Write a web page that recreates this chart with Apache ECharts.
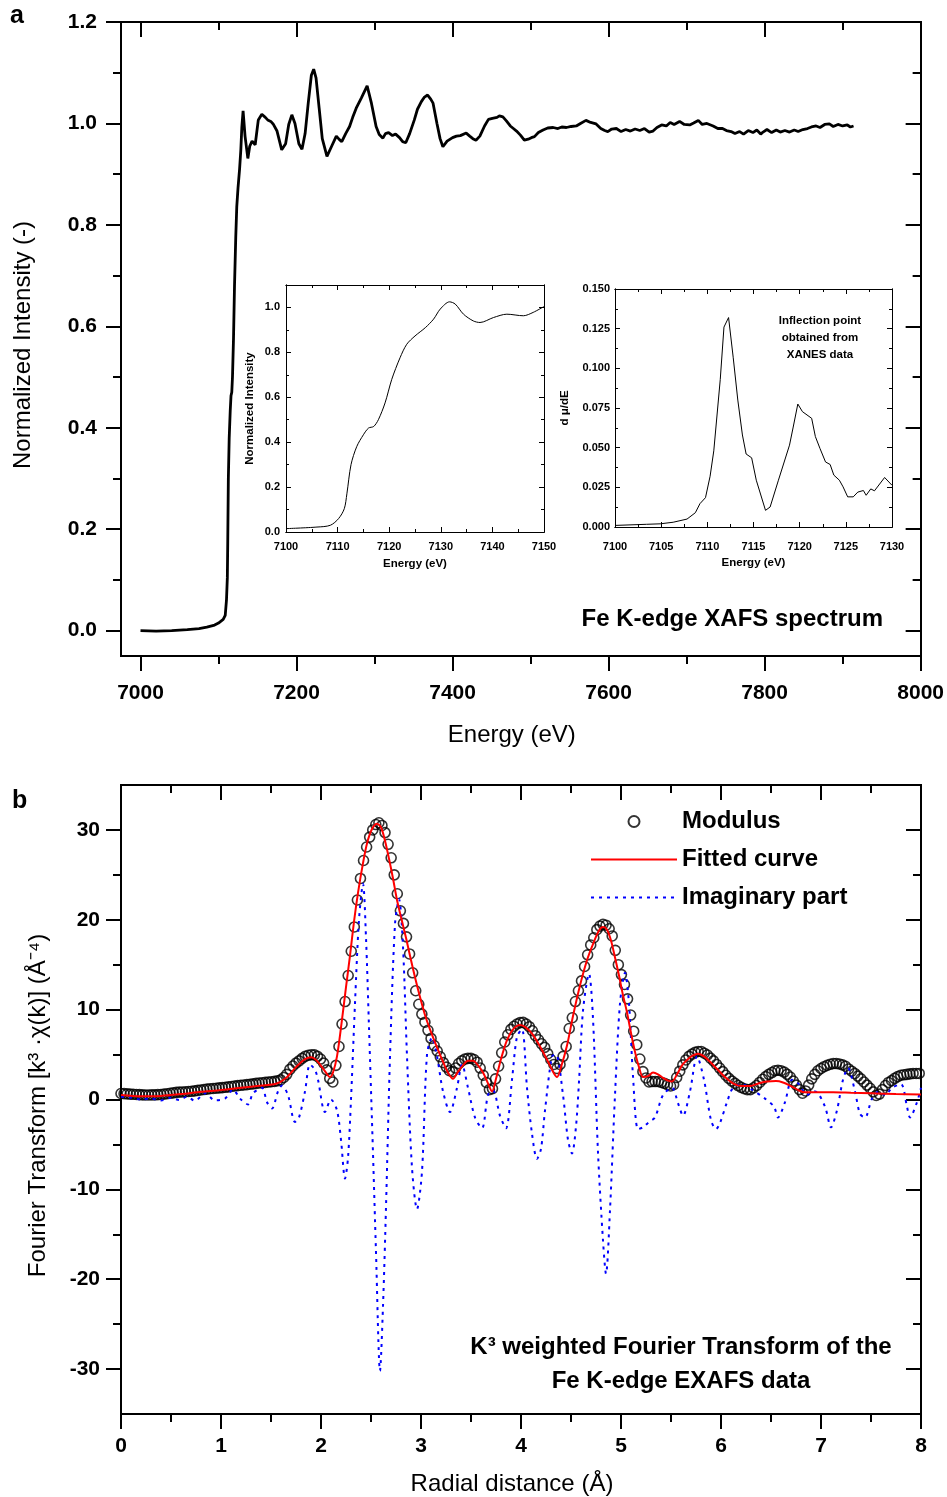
<!DOCTYPE html>
<html>
<head>
<meta charset="utf-8">
<script src="https://cdn.jsdelivr.net/npm/echarts@6/dist/echarts.min.js"></script>
<style>
  html, body { margin: 0; padding: 0; background: #fff; }
  #chart { width: 947px; height: 1497px; }
</style>
</head>
<body>
<div id="chart"></div>
<script>
// ---- panel a: Fe K-edge XAFS spectrum (energy eV, normalized intensity) ----
const xafsE = [7000, 7020, 7040, 7060, 7075, 7085, 7095, 7100, 7106, 7108.6, 7110.2, 7111.3, 7111.8, 7112.6, 7113.7,
  7115, 7116, 7117, 7117.9, 7119.2, 7120.5, 7122.1, 7123.4, 7125, 7127, 7128.6, 7129.9, 7131.5, 7134, 7137.6,
  7140, 7143, 7147, 7151, 7155.5, 7160, 7163, 7167, 7170, 7175, 7181, 7186, 7190, 7194, 7198, 7203, 7207, 7211,
  7215, 7219, 7222, 7225, 7229, 7233, 7239, 7245, 7251, 7255, 7258, 7263, 7268, 7272, 7276.5, 7283, 7290.5, 7296,
  7302, 7306, 7310.7, 7314, 7318, 7323, 7327, 7332, 7336, 7340, 7345, 7351, 7355, 7360, 7364, 7368, 7372, 7375,
  7380, 7384, 7387.6, 7393, 7400, 7405, 7410, 7417.5, 7422, 7426, 7430, 7435, 7441, 7446, 7451, 7457, 7460,
  7464.5, 7469, 7474, 7478, 7482, 7487, 7492, 7497, 7501, 7505, 7510, 7516, 7522, 7529, 7535, 7540, 7546, 7552,
  7558.6, 7564, 7571, 7577, 7584, 7590, 7595, 7599, 7604, 7610, 7616, 7622, 7628, 7634, 7640, 7646, 7652, 7657,
  7662, 7668, 7674, 7679, 7684, 7691, 7697, 7704, 7709, 7715, 7720, 7726, 7734, 7740, 7746, 7751, 7757, 7762,
  7768, 7773, 7779, 7785, 7790, 7795, 7798, 7803, 7809, 7815, 7820, 7826, 7832, 7838, 7843, 7849, 7855, 7860,
  7866, 7871, 7877, 7883, 7888, 7894, 7900, 7906, 7910, 7914];
const xafsI = [0.0, -0.001, 0.0, 0.002, 0.004, 0.007, 0.011, 0.015, 0.022, 0.03, 0.06, 0.104, 0.17, 0.30, 0.38,
  0.433, 0.463, 0.47, 0.50, 0.575, 0.68, 0.776, 0.836, 0.873, 0.91, 0.948, 0.993, 1.025, 0.975, 0.931,
  0.955, 0.965, 0.958, 1.007, 1.018, 1.012, 1.007, 1.004, 0.999, 0.985, 0.948, 0.96, 0.998, 1.017, 1.0, 0.96, 0.949, 0.98,
  1.04, 1.095, 1.107, 1.09, 1.03, 0.97, 0.935, 0.955, 0.975, 0.968, 0.964, 0.98, 0.994, 1.012, 1.030, 1.05, 1.074, 1.04,
  0.994, 0.978, 0.971, 0.98, 0.982, 0.976, 0.979, 0.972, 0.964, 0.962, 0.98, 1.007, 1.028, 1.043, 1.052, 1.056, 1.048, 1.040,
  1.0, 0.97, 0.954, 0.965, 0.972, 0.975, 0.976, 0.981, 0.975, 0.97, 0.967, 0.975, 0.995, 1.008, 1.010, 1.012, 1.015,
  1.013, 1.005, 0.995, 0.99, 0.985, 0.977, 0.967, 0.969, 0.972, 0.974, 0.982, 0.987, 0.991, 0.992, 0.99, 0.993, 0.992, 0.994,
  0.995, 1.0, 1.006, 1.002, 0.999, 0.99, 0.986, 0.984, 0.989, 0.99, 0.984, 0.988, 0.985, 0.989, 0.986, 0.99, 0.983, 0.985,
  0.992, 0.997, 0.995, 1.002, 0.998, 1.004, 0.998, 0.997, 1.001, 1.006, 0.998, 1.0, 0.995, 0.99, 0.99, 0.986, 0.984, 0.98,
  0.984, 0.979, 0.986, 0.982, 0.987, 0.979, 0.983, 0.988, 0.982, 0.987, 0.983, 0.986, 0.983, 0.987, 0.984, 0.988, 0.99, 0.993,
  0.995, 0.992, 0.998, 0.999, 0.994, 0.998, 0.995, 0.997, 0.993, 0.995];

// inset 1: XANES region
const xanesE = [7100, 7106, 7108.6, 7110.2, 7111.3, 7111.8, 7112.6, 7113.7, 7115, 7116, 7117, 7117.9, 7119.2,
  7120.5, 7122.1, 7123.4, 7125, 7127, 7128.6, 7129.9, 7131.7, 7132.8, 7134.4, 7136.3, 7137.6, 7140.2, 7142.8,
  7146, 7147.9, 7150];
const xanesI = [0.015, 0.022, 0.03, 0.06, 0.104, 0.17, 0.30, 0.38, 0.433, 0.463, 0.47, 0.50, 0.575,
  0.68, 0.776, 0.836, 0.873, 0.91, 0.948, 0.993, 1.025, 1.015, 0.97, 0.94, 0.933, 0.955, 0.97,
  0.963, 0.978, 1.004];

// inset 2: first derivative
const derivE = [7100, 7103.4, 7104.9, 7106.3, 7107.8, 7108.7, 7109.2, 7109.8, 7110.3, 7110.7, 7111.4, 7111.8,
  7112.3, 7112.8, 7113.3, 7113.8, 7114.2, 7114.8, 7115.3, 7116.3, 7116.8, 7117.7, 7118.9, 7119.3, 7119.8,
  7120.3, 7121.3, 7121.7, 7122.2, 7122.8, 7123.3, 7123.7, 7124.3, 7124.7, 7125.2, 7125.8, 7126.3, 7126.9,
  7127.2, 7127.7, 7128.1, 7129.2, 7130];
const derivV = [0.001, 0.0017, 0.002, 0.003, 0.005, 0.009, 0.0147, 0.0185, 0.032, 0.048, 0.093, 0.126,
  0.132, 0.107, 0.080, 0.058, 0.046, 0.0436, 0.0295, 0.0105, 0.0126, 0.0295, 0.0516, 0.063, 0.0775,
  0.0727, 0.0685, 0.057, 0.0495, 0.041, 0.0394, 0.0327, 0.0295, 0.0253, 0.019, 0.019, 0.022, 0.023,
  0.020, 0.024, 0.0228, 0.0312, 0.0263];

// ---- panel b: k3-weighted Fourier transform ----
const modStep = 0.0307;   // R grid of the modulus points (Å)
const modulus = [
  0.67, 0.65, 0.63, 0.60, 0.58, 0.56, 0.54, 0.52, 0.50, 0.50,
  0.51, 0.52, 0.54, 0.55, 0.60, 0.64, 0.69, 0.74, 0.79, 0.82,
  0.84, 0.86, 0.89, 0.91, 0.96, 1.01, 1.06, 1.11, 1.15, 1.20,
  1.23, 1.26, 1.29, 1.32, 1.36, 1.41, 1.45, 1.50, 1.54, 1.58,
  1.62, 1.66, 1.70, 1.74, 1.79, 1.83, 1.87, 1.91, 1.94, 1.98,
  2.02, 2.08, 2.18, 2.45, 2.80, 3.35, 3.73, 4.05, 4.30, 4.58,
  4.80, 4.92, 4.98, 4.97, 4.80, 4.50, 4.05, 3.30, 2.35, 1.95,
  3.80, 5.90, 8.40, 10.9, 13.8, 16.5, 19.2, 22.2, 24.6, 26.6,
  28.1, 29.2, 30.0, 30.6, 30.8, 30.5, 29.7, 28.4, 26.9, 25.0,
  22.9, 21.0, 19.6, 18.1, 16.2, 14.1, 12.1, 10.6, 9.5, 8.6,
  7.7, 6.8, 6.0, 5.4, 4.75, 4.1, 3.6, 3.2, 3.1, 3.5,
  4.0, 4.3, 4.5, 4.58, 4.58, 4.45, 4.15, 3.5, 2.7, 1.9,
  1.1, 1.2, 2.3, 3.7, 5.2, 6.4, 7.2, 7.8, 8.15, 8.4,
  8.55, 8.58, 8.4, 8.1, 7.65, 7.1, 6.65, 6.2, 5.8, 5.1,
  4.45, 3.9, 3.45, 3.9, 4.8, 5.9, 7.9, 9.1, 10.9, 12.1,
  13.2, 14.8, 16.1, 17.2, 18.0, 18.9, 19.3, 19.5, 19.4, 19.0,
  18.2, 16.6, 15.0, 13.9, 12.8, 11.2, 9.4, 7.6, 6.1, 4.5,
  3.1, 2.4, 1.95, 2.0, 2.0, 2.0, 1.9, 1.8, 1.65, 1.5,
  1.65, 2.45, 3.15, 3.85, 4.4, 4.8, 5.05, 5.25, 5.35, 5.35,
  5.15, 4.95, 4.6, 4.3, 3.9, 3.5, 3.1, 2.7, 2.35, 2.05,
  1.8, 1.55, 1.35, 1.2, 1.1, 1.1, 1.3, 1.55, 1.9, 2.25,
  2.55, 2.8, 3.0, 3.2, 3.25, 3.2, 3.05, 2.8, 2.5, 2.05,
  1.6, 1.1, 0.7, 0.95, 1.6, 2.3, 2.8, 3.2, 3.45, 3.65,
  3.8, 3.92, 4.0, 4.0, 3.95, 3.85, 3.7, 3.4, 3.15, 2.9,
  2.6, 2.3, 1.95, 1.6, 1.25, 0.85, 0.45, 0.6, 1.1, 1.55,
  1.9, 2.1, 2.35, 2.55, 2.7, 2.75, 2.8, 2.85, 2.9, 2.9,
  2.9
];
const fitted = [[0, 0.5], [0.2, 0.35], [0.4, 0.4], [0.6, 0.6], [0.8, 0.85], [1.0, 1.05], [1.2, 1.3], [1.4, 1.55],
  [1.55, 1.75], [1.65, 2.4], [1.75, 3.6], [1.84, 4.5], [1.9, 4.7], [1.96, 4.3], [2.03, 3.3], [2.09, 2.5], [2.12, 3.0],
  [2.16, 4.8], [2.2, 8.0], [2.25, 12.5], [2.29, 16], [2.33, 19.8], [2.37, 23], [2.42, 26.3], [2.46, 28.5], [2.51, 30.1],
  [2.56, 30.7], [2.6, 30.3], [2.64, 28.8], [2.68, 26.8], [2.72, 24.6], [2.76, 22.2], [2.8, 20.3], [2.85, 18.0],
  [2.89, 16], [2.94, 13.6], [2.99, 11.4], [3.04, 9.4], [3.09, 7.8], [3.16, 5.8], [3.22, 4.2], [3.27, 3.0], [3.32, 2.3],
  [3.37, 3.1], [3.42, 3.8], [3.47, 4.3], [3.52, 4.3], [3.57, 3.8], [3.62, 3.0], [3.67, 1.8], [3.71, 0.9], [3.75, 2.3],
  [3.8, 4.5], [3.86, 6.6], [3.92, 7.8], [3.99, 8.3], [4.05, 8.0], [4.12, 7.2], [4.2, 5.7], [4.28, 4.0], [4.33, 2.9],
  [4.36, 2.5], [4.4, 3.6], [4.46, 6.0], [4.52, 9.3], [4.59, 12.7], [4.66, 15.5], [4.72, 17.3], [4.78, 18.8],
  [4.82, 19.2], [4.86, 18.9], [4.9, 17.7], [4.94, 15.8], [4.98, 13.8], [5.02, 11.6], [5.06, 9.7], [5.1, 7.4],
  [5.14, 5.3], [5.18, 3.6], [5.22, 2.5], [5.27, 2.6], [5.32, 3.0], [5.37, 2.8], [5.42, 2.4], [5.47, 2.1], [5.51, 2.0],
  [5.56, 2.8], [5.61, 3.8], [5.66, 4.4], [5.72, 4.9], [5.77, 5.1], [5.83, 4.8], [5.9, 4.1], [5.96, 3.4], [6.04, 2.5],
  [6.12, 1.8], [6.2, 1.5], [6.29, 1.5], [6.38, 1.8], [6.46, 2.0], [6.55, 2.05], [6.62, 1.9], [6.7, 1.5], [6.78, 1.0],
  [6.84, 0.8], [6.95, 0.8], [7.12, 0.8], [7.3, 0.75], [7.5, 0.7], [7.75, 0.6], [8.0, 0.55]];
const imaginary = [[0, 0.3], [0.1, 0.2], [0.2, 0.0], [0.3, 0.1], [0.4, -0.1], [0.5, 0.2], [0.58, -0.05], [0.66, 0.3],
  [0.74, -0.15], [0.84, 0.7], [0.94, -0.1], [1.04, 0.1], [1.12, 1.1], [1.19, 0.1], [1.27, -0.55], [1.32, 0.7],
  [1.41, 1.3], [1.46, -0.3], [1.51, -1.0], [1.57, 0.9], [1.61, 1.55], [1.67, 0.5], [1.74, -2.5], [1.78, -2.0],
  [1.84, 0.9], [1.89, 3.9], [1.94, 3.3], [1.97, 2.2], [2.04, -1.4], [2.1, 0.0], [2.16, -1.2], [2.2, -4.5], [2.24, -8.8],
  [2.27, -6.5], [2.3, 0], [2.34, 10.7], [2.38, 20], [2.42, 24], [2.45, 18], [2.48, 8], [2.52, -6], [2.55, -17],
  [2.59, -30.2], [2.62, -23], [2.65, -12], [2.69, 4.8], [2.74, 19.5], [2.78, 22.3], [2.82, 17], [2.86, 4.8],
  [2.91, -7.6], [2.96, -12.2], [3.01, -8], [3.06, 5.0], [3.11, 6.9], [3.16, 4.8], [3.22, 0.9], [3.29, -1.4],
  [3.36, 1.3], [3.41, 3.9], [3.47, 1.3], [3.54, -2.0], [3.61, -3.2], [3.67, 0.5], [3.72, 1.0], [3.79, -1.8],
  [3.85, -3.2], [3.91, 2.2], [3.96, 7.0], [4.01, 7.8], [4.06, 1.3], [4.11, -3.8], [4.16, -6.6], [4.2, -5.5],
  [4.24, -1.2], [4.31, 4.8], [4.35, 5.0], [4.42, 0.5], [4.47, -4.5], [4.51, -6.0], [4.55, -3], [4.58, 2], [4.62, 9.9],
  [4.68, 14], [4.72, 9], [4.77, -5.9], [4.82, -15.7], [4.85, -19.4], [4.89, -12.3], [4.94, 0.5], [4.99, 10.7],
  [5.04, 14.1], [5.08, 10.7], [5.12, 2.6], [5.17, -3.3], [5.22, -3.1], [5.28, -2.5], [5.34, -2.0], [5.42, 0.5],
  [5.51, 1.3], [5.57, -0.4], [5.62, -1.8], [5.69, 0.9], [5.76, 4.8], [5.83, 2.2], [5.9, -2.3], [5.95, -3.3],
  [5.99, -2.6], [6.06, -0.3], [6.12, 1.3], [6.21, 1.7], [6.31, 1.1], [6.44, 0.1], [6.53, -0.8], [6.57, -2.0],
  [6.64, -0.3], [6.71, 2.2], [6.78, 1.7], [6.86, 0.5], [6.94, 0.9], [7.04, -0.8], [7.1, -3.1], [7.16, -1.2],
  [7.22, 2.2], [7.27, 3.5], [7.34, 0.9], [7.39, -1.6], [7.44, -2.0], [7.51, 0.1], [7.58, 0.9], [7.64, 0.5],
  [7.71, 1.3], [7.8, 1.7], [7.86, -0.8], [7.89, -2.0], [7.96, -0.3], [8.0, 1.3]];

// tick positions
const aXMajor = [7000, 7200, 7400, 7600, 7800, 8000];
const aXMinor = [7100, 7300, 7500, 7700, 7900];
const aYMajor = [0, 0.2, 0.4, 0.6, 0.8, 1.0, 1.2];
const aYMinor = [0.1, 0.3, 0.5, 0.7, 0.9, 1.1];
const i1XMajor = [7100, 7110, 7120, 7130, 7140, 7150];
const i1XMinor = [7105, 7115, 7125, 7135, 7145];
const i1YMajor = [0, 0.2, 0.4, 0.6, 0.8, 1.0];
const i1YMinor = [0.1, 0.3, 0.5, 0.7, 0.9, 1.1];
const i2XMajor = [7100, 7105, 7110, 7115, 7120, 7125, 7130];
const i2XMinor = [7102.5, 7107.5, 7112.5, 7117.5, 7122.5, 7127.5];
const i2YMajor = [0, 0.025, 0.05, 0.075, 0.1, 0.125, 0.15];
const i2YMinor = [0.0125, 0.0375, 0.0625, 0.0875, 0.1125, 0.1375];
const bXMajor = [0, 1, 2, 3, 4, 5, 6, 7, 8];
const bXMinor = [0.5, 1.5, 2.5, 3.5, 4.5, 5.5, 6.5, 7.5];
const bYMajor = [-30, -20, -10, 0, 10, 20, 30];
const bYMinor = [-25, -15, -5, 5, 15, 25];

const FONT = '"Liberation Sans", Arial, sans-serif';
const xAxes = [];
const yAxes = [];

// builds the 4 axes of one side pair (primary with labels + minor, mirrored major + minor)
function addAxes(list, dim, grid, c) {
  const prim = dim === 'x' ? 'bottom' : 'left';
  const mirr = dim === 'x' ? 'top' : 'right';
  const mk = (pos, vals, len, inside, label) => ({
    type: 'value', gridIndex: grid, position: pos, min: c.min, max: c.max,
    splitLine: { show: false },
    axisLine: { show: true, onZero: false, lineStyle: { color: '#000', width: c.lineW } },
    axisTick: { show: true, inside: inside, length: len, customValues: vals,
      lineStyle: { color: '#000', width: c.tickW } },
    axisLabel: label ? {
      show: true, customValues: c.majors, formatter: c.fmt, margin: c.margin,
      fontSize: c.labelSize, fontWeight: 'bold', fontFamily: FONT, color: '#000'
    } : { show: false }
  });
  const first = list.length;
  const main = mk(prim, c.majors, c.majLen, c.inset, true);
  main.name = c.name;
  main.nameLocation = 'middle';
  main.nameGap = c.nameGap;
  main.nameTextStyle = { fontSize: c.nameSize, fontWeight: c.nameWeight, fontFamily: FONT, color: '#000',
    padding: c.namePad || 0 };
  list.push(main);
  list.push(mk(prim, c.minors, c.minLen, c.inset, false));
  list.push(mk(mirr, c.majors, c.majLen, true, false));
  list.push(mk(mirr, c.minors, c.minLen, true, false));
  return first;
}

const big = { lineW: 2, tickW: 2, majLen: 15, minLen: 8, inset: false, labelSize: 21, nameSize: 24, nameWeight: 'normal' };
const small = { lineW: 1, tickW: 1, majLen: 5, minLen: 3, inset: true, labelSize: 11, nameSize: 11.5, nameWeight: 'bold' };

const ax0 = addAxes(xAxes, 'x', 0, Object.assign({}, big, { min: 6975, max: 8000, majors: aXMajor, minors: aXMinor,
  fmt: v => String(v), margin: 27, name: 'Energy (eV)', nameGap: 67, namePad: [0, 18, 0, 0] }));
const ay0 = addAxes(yAxes, 'y', 0, Object.assign({}, big, { min: -0.05, max: 1.2, majors: aYMajor, minors: aYMinor,
  fmt: v => v.toFixed(1), margin: 24, name: 'Normalized Intensity (-)', nameGap: 86, namePad: [0, 12, 0, 0] }));
const ax1 = addAxes(xAxes, 'x', 1, Object.assign({}, small, { min: 7100, max: 7150, majors: i1XMajor, minors: i1XMinor,
  fmt: v => String(v), margin: 9, name: 'Energy (eV)', nameGap: 26 }));
const ay1 = addAxes(yAxes, 'y', 1, Object.assign({}, small, { min: 0, max: 1.1, majors: i1YMajor, minors: i1YMinor,
  fmt: v => v.toFixed(1), margin: 6, name: 'Normalized Intensity', nameGap: 30 }));
const ax2 = addAxes(xAxes, 'x', 2, Object.assign({}, small, { min: 7100, max: 7130, majors: i2XMajor, minors: i2XMinor,
  fmt: v => String(v), margin: 14, name: 'Energy (eV)', nameGap: 30 }));
const ay2 = addAxes(yAxes, 'y', 2, Object.assign({}, small, { min: 0, max: 0.15, majors: i2YMajor, minors: i2YMinor,
  fmt: v => v.toFixed(3), margin: 5, name: 'd \u03bc/dE', nameGap: 44 }));
const ax3 = addAxes(xAxes, 'x', 3, Object.assign({}, big, { min: 0, max: 8, majors: bXMajor, minors: bXMinor,
  fmt: v => String(v), margin: 22, name: 'Radial distance (\u00c5)', nameGap: 58, namePad: [0, 18, 0, 0] }));
const ay3 = addAxes(yAxes, 'y', 3, Object.assign({}, big, { min: -35, max: 35, majors: bYMajor, minors: bYMinor,
  fmt: v => String(v), margin: 21, name: 'Fourier Transform [k\u00b3 \u00b7\u03c7(k)] (\u00c5\u207b\u2074)', nameGap: 71,
  namePad: [0, 12, 0, 0] }));

const zip = (a, b) => a.map((v, i) => [v, b[i]]);
const modulusData = modulus.map((v, i) => [+(i * modStep).toFixed(4), v]);
const noSymbol = { color: 'rgba(0,0,0,0)', borderColor: 'rgba(0,0,0,0)', borderWidth: 0 };

const chart = echarts.init(document.getElementById('chart'));
chart.setOption({
  animation: false,
  backgroundColor: '#fff',
  grid: [
    { left: 121, top: 22, width: 800, height: 634 },
    { left: 286, top: 285, width: 258, height: 247 },
    { left: 615, top: 289, width: 277, height: 238 },
    { left: 121, top: 785, width: 800, height: 629 }
  ],
  xAxis: xAxes,
  yAxis: yAxes,
  legend: {
    orient: 'vertical', left: 590, top: 809, padding: 0, itemWidth: 86, itemHeight: 11, itemGap: 13,
    selectedMode: false,
    textStyle: { fontSize: 24, fontWeight: 'bold', fontFamily: FONT, color: '#000', lineHeight: 25 },
    data: [
      { name: 'Modulus' },
      { name: 'Fitted curve', itemStyle: noSymbol },
      { name: 'Imaginary part', itemStyle: noSymbol }
    ]
  },
  graphic: [
    { type: 'text', left: 10, top: 4, style: { text: 'a', fontSize: 25, fontWeight: 'bold', fontFamily: FONT, fill: '#000' } },
    { type: 'text', left: 12, top: 789, style: { text: 'b', fontSize: 25, fontWeight: 'bold', fontFamily: FONT, fill: '#000' } },
    { type: 'text', right: 64, top: 607, style: { text: 'Fe K-edge XAFS spectrum', fontSize: 24, fontWeight: 'bold', fontFamily: FONT, fill: '#000' } },
    { type: 'text', x: 820, y: 312, style: { text: 'Inflection point\nobtained from\nXANES data', fontSize: 11.5,
      fontWeight: 'bold', fontFamily: FONT, fill: '#000', align: 'center', verticalAlign: 'top', lineHeight: 17 } },
    { type: 'text', x: 681, y: 1330, style: { text: 'K\u00b3 weighted Fourier Transform of the\nFe K-edge EXAFS data',
      fontSize: 24, fontWeight: 'bold', fontFamily: FONT, fill: '#000', align: 'center', verticalAlign: 'top', lineHeight: 34 } }
  ],
  series: [
    { type: 'line', xAxisIndex: ax0, yAxisIndex: ay0, data: zip(xafsE, xafsI), symbol: 'none',
      lineStyle: { color: '#000', width: 2.8 } },
    { type: 'line', xAxisIndex: ax1, yAxisIndex: ay1, data: zip(xanesE, xanesI), symbol: 'none', smooth: 0.3,
      lineStyle: { color: '#000', width: 1 } },
    { type: 'line', xAxisIndex: ax2, yAxisIndex: ay2, data: zip(derivE, derivV), symbol: 'none',
      lineStyle: { color: '#000', width: 1 } },
    { name: 'Modulus', type: 'scatter', xAxisIndex: ax3, yAxisIndex: ay3, data: modulusData, symbol: 'circle', symbolSize: 10,
      itemStyle: { color: 'rgba(255,255,255,0)', borderColor: '#000', borderWidth: 1.6 } },
    { name: 'Imaginary part', type: 'line', xAxisIndex: ax3, yAxisIndex: ay3, data: imaginary, symbol: 'none', smooth: 0.3,
      lineStyle: { color: '#0000ff', width: 2, type: [3, 5] }, itemStyle: { color: '#0000ff' } },
    { name: 'Fitted curve', type: 'line', xAxisIndex: ax3, yAxisIndex: ay3, data: fitted, symbol: 'none', smooth: 0.3,
      lineStyle: { color: '#ff0000', width: 2 }, itemStyle: { color: '#ff0000' } }
  ]
});
</script>
</body>
</html>
